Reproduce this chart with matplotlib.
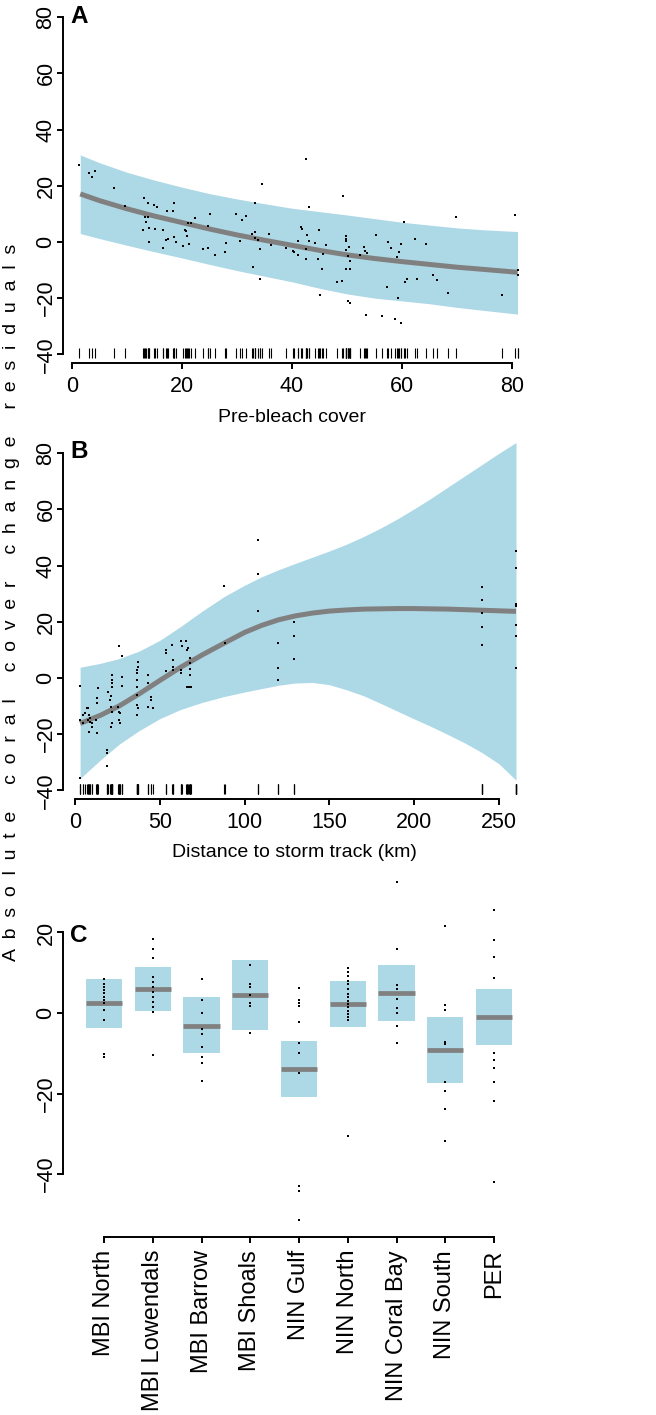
import matplotlib
matplotlib.use("Agg")
import matplotlib.pyplot as plt
import numpy as np

W, H = 656, 1415
plt.rcParams['font.family'] = ['Liberation Sans', 'DejaVu Sans']

BAND = '#ADD8E6'
LINE = '#808080'

# ---------------- Panel A: Pre-bleach cover ----------------
a_x = [1.3, 3.0, 3.7, 4.1, 7.7, 13.0, 34.6, 42.5, 49.3,
       9.7, 13.9, 14.9, 15.5, 13.2, 13.9, 13.4, 12.9, 14.0, 15.0, 14.0, 16.6, 17.2, 18.4, 18.5,
       17.0, 17.4, 16.6, 18.5, 18.9, 20.2, 20.5, 20.7, 21.0, 21.6, 22.4, 20.9, 21.3, 23.9, 24.7,
       24.7, 25.0, 26.0, 28.0, 27.9, 29.8, 30.9, 31.6, 30.5, 33.2, 32.7, 33.2, 33.3, 33.8, 34.1,
       35.8, 36.1, 32.9, 34.2,
       38.9, 40.2, 40.4, 41.0, 41.0, 41.6, 41.9, 42.5, 42.5, 42.7, 43.1, 43.1, 44.2, 44.9, 44.7,
       45.0, 45.5, 45.7, 46.2, 48.1, 49.0, 49.9, 49.9, 49.9, 49.9, 50.1, 50.4, 50.5, 49.8, 50.5,
       50.1, 50.5, 52.4, 53.0, 53.2, 53.6, 53.4, 55.2, 56.3, 57.2, 57.5, 58.0, 58.7, 59.0, 59.5,
       59.2, 59.9, 59.9, 60.4, 60.9, 60.5, 62.8, 62.4, 64.4, 65.6, 66.4, 68.3, 69.9, 78.1, 80.5,
       81.0, 81.0]
a_y = [27.5, 24.5, 23.1, 25.4, 19.2, 15.5, 20.7, 29.5, 16.4,
       12.9, 13.8, 13.0, 12.4, 8.8, 8.8, 7.0, 4.3, 4.9, 4.5, 0.1, 4.3, 11.1, 11.1, 13.9,
       0.7, 1.0, -2.0, 1.7, 0.0, -1.5, 4.3, 3.9, 6.7, 6.9, 8.5, 2.1, -0.8, -2.6, -2.3,
       5.8, 9.9, -4.5, -0.5, -3.7, 9.9, 7.9, 9.2, 0.4, 13.8, 2.8, 3.7, 1.3, 0.6, -2.6,
       2.8, -1.1, -8.8, -13.3,
       -2.1, -3.2, -3.6, -4.6, 0.5, 5.2, 4.5, -2.6, -6.0, 2.4, 12.3, 0.4, -0.2, 4.3, -6.0,
       -19.0, -9.6, -4.3, -1.1, -14.4, -14.0, 2.1, 1.2, 0.4, -3.0, -5.0, -1.7, -6.7, -9.8, -9.8,
       -21.0, -21.8, -4.5, -1.9, -3.2, -3.8, -26.1, 2.3, -26.4, -16.2, 0.0, -2.3, -27.3, -5.5, -3.5,
       -19.8, -29.0, -0.7, 7.0, -13.1, -14.2, -13.2, 1.2, -0.8, -11.8, -13.6, -18.3, 9.0, -19.0, 9.6,
       -10.0, -11.8]
a_grid = [1.5, 5, 10, 15, 20, 25, 30, 35, 40, 45, 50, 55, 60, 65, 70, 75, 81]
a_fit = [17.1, 14.7, 11.8, 9.2, 6.9, 4.6, 2.5, 0.6, -1.2, -3.0, -4.6, -5.9, -7.0, -8.0, -9.0, -9.8, -10.8]
a_upper = [31.0, 28.2, 24.8, 22.0, 19.5, 17.2, 15.3, 13.6, 12.0, 10.8, 9.6, 8.3, 7.0, 6.0, 5.0, 4.3, 3.7]
a_lower = [3.0, 1.2, -1.2, -3.5, -5.7, -8.0, -10.2, -12.2, -14.2, -16.5, -18.5, -20.0, -21.0, -22.0, -23.3, -24.4, -25.7]
a_xticks = [0, 20, 40, 60, 80]
res_yticks = [-40, -20, 0, 20, 40, 60, 80]

# ---------------- Panel B: Distance to storm track ----------------
b_x = [3, 3, 3, 4.5, 4.9, 5.9, 6.9, 7.5, 8.4, 8.8, 9.8, 8.2, 7.7, 12.7, 13.1, 13.7, 12.7, 12.5, 8.8, 9.8,
       19.6, 21.0, 20.6, 21.2, 21.6, 21.6, 21.2, 21.6, 22.0, 21.6, 22.0, 18.6, 18.6, 18.6,
       26.1, 27.5, 27.5, 27.5, 25.5, 26.1, 26.5, 26.1, 26.5,
       36.3, 36.7, 37.3, 37.3, 36.7, 36.3, 36.7, 36.7, 37.3, 36.7,
       43.1, 43.1, 43.1, 45.1, 45.1, 45.7,
       53.5, 53.9, 53.9, 57.4, 57.8, 57.8, 57.8,
       62.7, 63.1, 62.7, 62.7, 65.7, 66.3, 66.3, 67.1, 67.6, 68.0, 67.6, 68.0, 68.6, 66.7,
       87.6, 88.5, 107.8, 107.8, 107.8, 119.6, 119.6, 119.6, 129.1, 129.1, 129.1,
       240.2, 240.2, 240.2, 240.2, 240.2, 260.2, 260.2, 260.2, 260.2, 260.2, 260.2, 260.2]
b_y = [-2.9, -35.8, -14.8, -13.2, -16.2, -12.4, -10.8, -15.0, -13.2, -14.2, -17.4, -19.2, -10.8, -7.3, -8.8,
       -3.7, -19.5, -15.0, -15.6, -16.0,
       -4.9, -6.4, -7.9, -10.2, -12.0, -16.2, -17.4, 1.1, -0.7, -1.9, -3.1, -25.7, -26.6, -31.4,
       11.2, 7.9, 0.5, -2.9, -10.2, -12.0, -12.6, -15.0, -16.2,
       2.9, 1.7, 5.8, 3.8, -0.7, -3.1, -6.1, -9.6, -10.8, -13.2,
       1.1, -1.9, -10.2, -6.7, -7.9, -10.8,
       10.0, 9.0, 2.3, 11.8, 6.4, 3.8, 2.9,
       13.0, 11.2, 2.9, 1.7, 13.0, 10.0, -3.1, -3.1, 7.0, 5.2, 3.1, 1.1, -3.1, 10.6,
       32.9, 12.6, 23.7, 49.0, 37.1, 12.4, 3.5, -0.7, 19.8, 15.0, 6.6,
       32.4, 27.6, 23.1, 18.3, 11.6, 26.4, 25.5, 19.0, 15.0, 3.5, 45.1, 39.2]
b_grid = [3, 15, 26, 38, 50, 62, 75, 88, 100, 110, 120, 130, 140, 150, 160, 170, 180, 190,
          200, 210, 220, 230, 240, 250, 260]
b_fit = [-16.2, -13.3, -10.0, -5.6, -0.9, 3.7, 8.2, 12.4, 16.2, 18.7, 20.7, 22.1, 23.1, 23.8,
         24.2, 24.5, 24.6, 24.7, 24.7, 24.6, 24.5, 24.3, 24.1, 23.9, 23.7]
b_upper = [3.8, 5.2, 6.9, 9.6, 13.4, 18.2, 23.8, 29.0, 33.0, 36.0, 38.5, 40.8, 43.0, 45.2,
           47.6, 50.3, 53.3, 56.6, 60.2, 64.0, 68.0, 72.0, 76.0, 80.0, 83.8]
b_lower = [-35.8, -29.2, -23.6, -18.7, -14.5, -11.3, -8.7, -6.6, -5.0, -3.8, -2.6, -1.8, -1.6,
           -2.4, -4.2, -6.3, -9.0, -11.8, -14.6, -17.3, -20.2, -23.2, -26.6, -30.6, -36.4]
b_xticks = [0, 50, 100, 150, 200, 250]

# ---------------- Panel C: Regions ----------------
c_names = ['MBI North', 'MBI Lowendals', 'MBI Barrow', 'MBI Shoals', 'NIN Gulf',
           'NIN North', 'NIN Coral Bay', 'NIN South', 'PER']
c_mean = [2.4, 6.0, -3.1, 4.5, -14.0, 2.2, 4.9, -9.2, -1.0]
c_upper = [8.4, 11.4, 3.9, 13.2, -6.9, 7.9, 11.9, -1.0, 6.0]
c_lower = [-3.6, 0.6, -10.0, -4.2, -20.9, -3.5, -2.1, -17.3, -7.9]
c_pts_mbi_north = [8.4, 7.3, 6.5, 5.7, 5.0, 4.0, 3.2, 2.4, 0.7, -1.7, -10.2, -10.8]
c_pts_mbi_lowendals = [18.3, 15.9, 13.7, 8.9, 7.8, 6.5, 5.3, 4.0, 2.8, 1.6, 0.3, -10.4]
c_pts_mbi_barrow = [8.4, 3.2, -0.1, -4.0, -5.3, -8.4, -10.8, -12.5, -16.8]
c_pts_mbi_shoals = [11.9, 7.3, 6.5, 4.5, 2.6, 1.8, -4.9]
c_pts_nin_gulf = [6.2, 3.2, 2.4, 1.8, -2.3, -7.4, -9.8, -15.0, -42.9, -44.3, -51.4]
c_pts_nin_north = [11.1, 10.3, 9.1, 8.0, 7.1, 5.9, 4.7, 3.9, 3.1, 2.3, 1.5, 0.6, -0.2, -1.0, -1.8, -30.5]
c_pts_nin_coral_bay = [32.6, 15.9, 6.9, 6.0, 3.6, 1.2, -0.1, -3.2, -7.5]
c_pts_nin_south = [21.6, 2.0, 0.7, -7.1, -7.7, -17.0, -19.3, -23.9, -31.8]
c_pts_per = [25.6, 18.2, 13.8, 8.8, -10.0, -11.7, -13.7, -17.0, -21.8, -41.9]
c_points = [c_pts_mbi_north, c_pts_mbi_lowendals, c_pts_mbi_barrow, c_pts_mbi_shoals,
            c_pts_nin_gulf, c_pts_nin_north, c_pts_nin_coral_bay, c_pts_nin_south, c_pts_per]
c_yticks = [-40, -20, 0, 20]

TICK_FS = 15.5
TITLE_FS = 14
CAT_FS = 17
SPINE_W = 1.4
MS = 2.0


def rect(l, r, t, b):
    return [l / W, 1 - b / H, (r - l) / W, (b - t) / H]


def style(ax, ybounds, xbounds):
    for s in ['top', 'right']:
        ax.spines[s].set_visible(False)
    for s in ['left', 'bottom']:
        ax.spines[s].set_linewidth(SPINE_W)
    ax.spines['left'].set_bounds(*ybounds)
    ax.spines['bottom'].set_bounds(*xbounds)
    ax.tick_params(direction='out', length=4.3, width=SPINE_W, labelsize=TICK_FS)
    ax.tick_params(axis='x', pad=5)
    ax.tick_params(axis='y', pad=0)
    for lab in ax.get_yticklabels():
        lab.set_rotation(90)
        lab.set_va('center')


fig = plt.figure(figsize=(W / 100, H / 100), dpi=100)

# Panel A
axA = fig.add_axes(rect(62.5, 535, 6, 363))
axA.set_xlim(-1.73, 84.18)
axA.set_ylim(-43.1, 84.0)
axA.fill_between(a_grid, a_lower, a_upper, color=BAND, lw=0)
axA.plot(a_grid, a_fit, color=LINE, lw=3.6, solid_capstyle='butt')
axA.plot(a_x, a_y, 's', ms=MS, color='black', mew=0)
axA.vlines(a_x, -41.2, -37.6, color='black', lw=0.8)
axA.set_xticks(a_xticks)
axA.set_yticks(res_yticks)
style(axA, (-40, 80), (0, 80))

# Panel B
axB = fig.add_axes(rect(62.5, 535, 442, 799))
axB.set_xlim(-7.37, 271.2)
axB.set_ylim(-43.1, 84.0)
axB.fill_between(b_grid, b_lower, b_upper, color=BAND, lw=0)
axB.plot(b_grid, b_fit, color=LINE, lw=3.6, solid_capstyle='butt')
axB.plot(b_x, b_y, 's', ms=MS, color='black', mew=0)
axB.vlines(b_x, -41.2, -37.6, color='black', lw=0.8)
axB.set_xticks(b_xticks)
axB.set_yticks(res_yticks)
style(axB, (-40, 80), (0, 250))

# Panel C
axC = fig.add_axes(rect(62.5, 535, 868, 1237))
axC.set_xlim(0.149, 9.84)
axC.set_ylim(-55.6, 36.0)
pos = np.arange(1, len(c_names) + 1)
lo = np.array(c_lower)
hi = np.array(c_upper)
axC.bar(pos, hi - lo, bottom=lo, width=0.74, color=BAND, lw=0)
axC.hlines(c_mean, pos - 0.37, pos + 0.37, color=LINE, lw=3.4)
for p, pts in zip(pos, c_points):
    axC.plot([p] * len(pts), pts, 's', ms=MS, color='black', mew=0)
axC.set_xticks(pos)
axC.set_xticklabels(c_names, rotation=90, fontsize=CAT_FS)
axC.set_yticks(c_yticks)
style(axC, (-40, 20), (1, 9))
axC.tick_params(axis='x', labelsize=CAT_FS, pad=5)

# Axis titles
fig.text(292 / W, 1 - 422 / H, 'Pre-bleach cover', fontsize=TITLE_FS, ha='center', va='baseline')
fig.text(294.5 / W, 1 - 857 / H, 'Distance to storm track (km)', fontsize=TITLE_FS, ha='center', va='baseline')

# Shared y label with letter spacing
words = ['Absolute', 'coral', 'cover', 'change', 'residuals']
ylab = '     '.join('  '.join(w) for w in words)
fig.text(12 / W, 1 - 602 / H, ylab, fontsize=14, rotation=90, ha='center', va='center')

# Panel letters
for letter, base in [('A', 23), ('B', 458), ('C', 942)]:
    fig.text(70 / W, 1 - base / H, letter, fontsize=17.5, fontweight='bold', ha='left', va='baseline')

fig.savefig('out.png', dpi=100)
